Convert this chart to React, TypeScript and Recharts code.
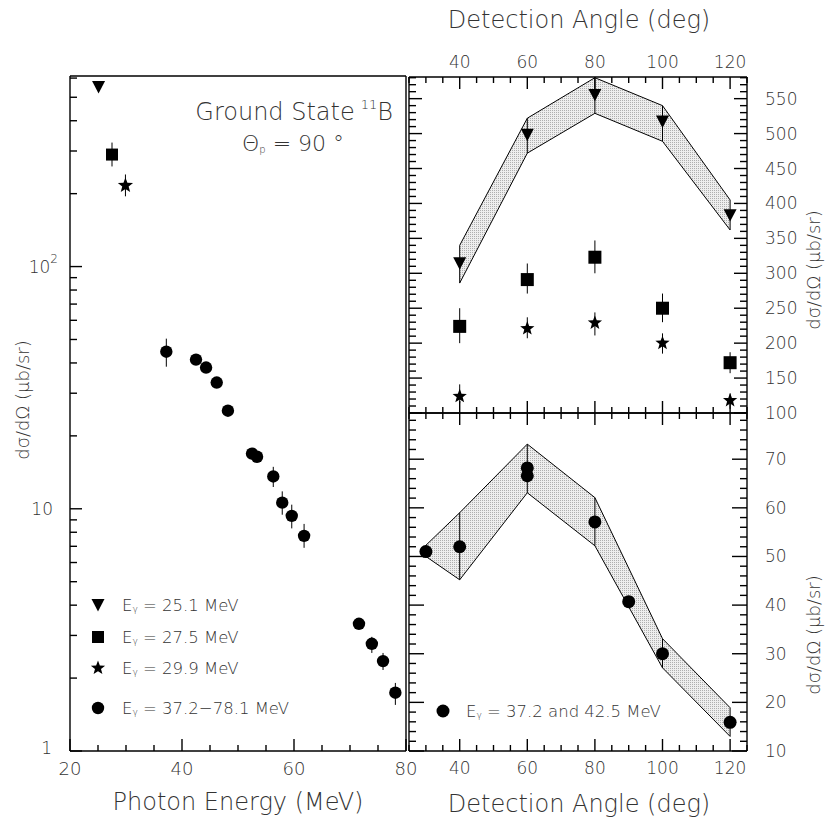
import React from 'react';
import { ComposedChart, Scatter, XAxis, YAxis, ErrorBar, Area, Line, ReferenceLine } from 'recharts';

// ---------- energy dependence at theta_p = 90 deg (left, log scale) ----------
const triEnergy = [25.1];
const triXs = [550];
const sqEnergy = [27.5];
const sqXs = [290];
const sqLo = [259];
const sqHi = [325];
const starEnergy = [29.9];
const starXs = [216];
const starLo = [195];
const starHi = [240];
const circEnergy = [37.2, 42.5, 44.3, 46.2, 48.2, 52.5, 53.4, 56.3, 57.9, 59.6, 61.8, 71.6, 73.9, 75.9, 78.1];
const circXs = [44.5, 41.3, 38.3, 33.2, 25.4, 16.9, 16.4, 13.6, 10.6, 9.35, 7.73, 3.35, 2.77, 2.35, 1.74];
const circLo = [38.6, 39.8, 36.9, 32.0, 24.5, 16.4, 15.9, 12.3, 9.45, 8.3, 6.9, 3.22, 2.54, 2.16, 1.55];
const circHi = [50.4, 42.8, 39.7, 34.4, 26.3, 17.4, 16.9, 14.9, 11.8, 10.4, 8.66, 3.48, 2.96, 2.54, 1.91];

const energyTicks = [20, 25, 30, 35, 40, 45, 50, 55, 60, 65, 70, 75, 80];
const logTicks = [1, 2, 3, 4, 5, 6, 7, 8, 9, 10, 20, 30, 40, 50, 60, 70, 80, 90, 100, 200, 300, 400, 500, 600];

// ---------- angular distributions (upper right) ----------
const angles = [40, 60, 80, 100, 120];
const triAng = [314, 498, 555, 517, 383];
const triBandLo = [286, 472, 529, 489, 362];
const triBandHi = [340, 522, 580, 540, 405];
const sqAng = [224, 291, 323, 250, 172];
const sqAngLo = [200, 271, 300, 230, 157];
const sqAngHi = [250, 314, 347, 271, 187];
const starAng = [124, 221, 229, 200, 118];
const starAngLo = [114, 207, 211, 185, 106];
const starAngHi = [141, 237, 244, 214, 128];

// ---------- angular distribution, 37.2 and 42.5 MeV (lower right) ----------
const lowAngles = [30, 40, 60, 60, 80, 90, 100, 120];
const lowXs = [51.0, 52.0, 68.2, 66.6, 57.1, 40.7, 30.0, 15.9];
const lowBandAngles = [30, 40, 60, 80, 100, 120];
const lowBandLo = [50.0, 45.2, 63.1, 52.2, 27.1, 13.0];
const lowBandHi = [52.3, 59.0, 73.1, 62.1, 33.1, 18.9];

const angleTicks = [25, 30, 35, 40, 45, 50, 55, 60, 65, 70, 75, 80, 85, 90, 95, 100, 105, 110, 115, 120, 125];
const upperTicks: number[] = [];
for (let v = 100; v <= 580; v += 10) upperTicks.push(v);
const lowerTicks: number[] = [];
for (let v = 10; v <= 78; v += 2) lowerTicks.push(v);

// ---------- domains ----------
const E_DOM: [number, number] = [20, 80];
const LOG_DOM: [number, number] = [1, 612];
const ANG_DOM: [number, number] = [25, 125];
const UP_DOM: [number, number] = [100, 581];
const LOW_DOM: [number, number] = [10, 79.5];

// plot-area sizes in pixels (set by the chart sizes and margins below)
const LEFT_W = 336;
const LEFT_H = 675;
const RIGHT_W = 338;
const UP_H = 336;
const LOW_H = 338;

// ---------- styling ----------
const FONT = '"DejaVu Sans", sans-serif';
const INK = '#000';
const TEXT = '#333';
const TW = 200;
const TICK_W = 1.4;

const pts = (xs: number[], ys: number[], lo?: number[], hi?: number[]) =>
  xs.map((x, i) => ({
    x,
    y: ys[i],
    err: lo && hi ? [ys[i] - lo[i], hi[i] - ys[i]] : [0, 0],
  }));

const bandRows = (xs: number[], lo: number[], hi: number[]) =>
  xs.map((x, i) => ({ x, lo: lo[i], hi: hi[i], y: lo[i], err: [0, hi[i] - lo[i]] }));

// ---------- marker shapes ----------
const triDown = (s: number) => (p: any) => {
  const { cx, cy } = p;
  const h = s * 0.95;
  return <path d={`M${cx - s / 2},${cy - h / 2}L${cx + s / 2},${cy - h / 2}L${cx},${cy + h / 2}Z`} fill={INK} />;
};
const square = (s: number) => (p: any) => (
  <rect x={p.cx - s / 2} y={p.cy - s / 2} width={s} height={s} fill={INK} />
);
const dot = (r: number) => (p: any) => <circle cx={p.cx} cy={p.cy} r={r} fill={INK} />;
const starPath = (cx: number, cy: number, R: number) => {
  const r = R * 0.42;
  let d = '';
  for (let i = 0; i < 10; i++) {
    const a = -Math.PI / 2 + (i * Math.PI) / 5;
    const rr = i % 2 === 0 ? R : r;
    d += (i === 0 ? 'M' : 'L') + (cx + rr * Math.cos(a)).toFixed(2) + ',' + (cy + rr * Math.sin(a)).toFixed(2);
  }
  return d + 'Z';
};
const star = (R: number) => (p: any) => <path d={starPath(p.cx, p.cy, R)} fill={INK} />;
const nothing = () => <g />;

// ---------- inward tick marks along the frame ----------
type Side = 'bottom' | 'top' | 'left' | 'right';
type Seg = [{ x: number; y: number }, { x: number; y: number }];
interface FrameSpec {
  xDom: [number, number];
  yDom: [number, number];
  pxPerX: number;
  yShift: (base: number, px: number, dir: 1 | -1) => number;
  xTicks: number[];
  yTicks: number[];
  xMajor: (v: number) => boolean;
  yMajor: (v: number) => boolean;
  xLen: [number, number];
  yLen: [number, number];
  sides: Side[];
}
function frameSegments(f: FrameSpec): Seg[] {
  const out: Seg[] = [];
  for (const s of f.sides) {
    if (s === 'bottom' || s === 'top') {
      for (const v of f.xTicks) {
        const px = f.xMajor(v) ? f.xLen[0] : f.xLen[1];
        if (s === 'bottom') out.push([{ x: v, y: f.yDom[0] }, { x: v, y: f.yShift(f.yDom[0], px, 1) }]);
        else out.push([{ x: v, y: f.yDom[1] }, { x: v, y: f.yShift(f.yDom[1], px, -1) }]);
      }
    } else {
      for (const v of f.yTicks) {
        const px = f.yMajor(v) ? f.yLen[0] : f.yLen[1];
        if (s === 'left') out.push([{ x: f.xDom[0], y: v }, { x: f.xDom[0] + px / f.pxPerX, y: v }]);
        else out.push([{ x: f.xDom[1], y: v }, { x: f.xDom[1] - px / f.pxPerX, y: v }]);
      }
    }
  }
  return out;
}
const linShift = (pxPerY: number) => (b: number, px: number, dir: 1 | -1) => b + (dir * px) / pxPerY;
const logShift = (pxPerDecade: number) => (b: number, px: number, dir: 1 | -1) => b * Math.pow(10, (dir * px) / pxPerDecade);

function tickLines(segs: Seg[], prefix: string) {
  return segs.map((seg, i) => (
    <ReferenceLine
      key={prefix + i}
      xAxisId="b"
      yAxisId="l"
      segment={seg}
      stroke={INK}
      strokeWidth={TICK_W}
      ifOverflow="visible"
    />
  ));
}

// ---------- tick labels ----------
function makeLabel(side: Side, gap: number, label: (v: number) => string | null, fontSize = 17) {
  return function TickLabel(props: any) {
    const { x, y, payload } = props;
    const lab = label(Number(payload.value));
    if (lab == null) return <g />;
    let tx = x;
    let ty = y;
    let anchor: 'middle' | 'end' | 'start' = 'middle';
    if (side === 'bottom') ty = y + gap;
    else if (side === 'top') ty = y - gap;
    else if (side === 'left') {
      tx = x - gap;
      anchor = 'end';
    } else {
      tx = x + gap;
      anchor = 'start';
    }
    return (
      <text x={tx} y={ty} textAnchor={anchor} dominantBaseline="central" fontFamily={FONT} fontWeight={TW} fontSize={fontSize} fill={TEXT}>
        {lab}
      </text>
    );
  };
}

// log axis labels 1, 10, 10^2
function LogLabel(props: any) {
  const { x, y, payload } = props;
  const v = Number(payload.value);
  const common = { fontFamily: FONT, fontWeight: TW, fontSize: 17, fill: TEXT, dominantBaseline: 'central' as const };
  if (v === 1)
    return (
      <text x={x - 18} y={y - 3} textAnchor="end" {...common}>
        1
      </text>
    );
  if (v === 10)
    return (
      <text x={x - 17} y={y} textAnchor="end" {...common}>
        10
      </text>
    );
  if (v === 100)
    return (
      <text x={x - 12} y={y} textAnchor="end" {...common}>
        10
        <tspan dy={-8} fontSize={12}>
          2
        </tspan>
      </text>
    );
  return <g />;
}

const axisLine = { stroke: INK, strokeWidth: 1.4 };
const mult = (m: number) => (v: number) => Math.abs(v % m) < 1e-9;
const noTicks = { tickSize: 0, tickMargin: 0, tickLine: false, interval: 0 as const };

// ---------- panels ----------
function EnergyPanel() {
  const tri = pts(triEnergy, triXs);
  const sq = pts(sqEnergy, sqXs, sqLo, sqHi);
  const st = pts(starEnergy, starXs, starLo, starHi);
  const ci = pts(circEnergy, circXs, circLo, circHi);
  const segs = frameSegments({
    xDom: E_DOM,
    yDom: LOG_DOM,
    pxPerX: LEFT_W / (E_DOM[1] - E_DOM[0]),
    yShift: logShift(LEFT_H / Math.log10(LOG_DOM[1] / LOG_DOM[0])),
    xTicks: energyTicks,
    yTicks: logTicks,
    xMajor: mult(20),
    yMajor: (v) => v === 1 || v === 10 || v === 100,
    xLen: [12, 6],
    yLen: [12, 7],
    sides: ['bottom', 'left'],
  });
  return (
    <ComposedChart width={420} height={818} margin={{ top: 75, right: 13, bottom: 0, left: 0 }}>
      <XAxis
        xAxisId="b"
        type="number"
        dataKey="x"
        domain={E_DOM}
        allowDataOverflow
        ticks={energyTicks}
        height={67}
        {...noTicks}
        axisLine={axisLine}
        tick={makeLabel('bottom', 17, (v) => (v % 20 === 0 ? String(v) : null), 18)}
      />
      <XAxis xAxisId="t" orientation="top" type="number" dataKey="x" domain={E_DOM} allowDataOverflow height={1} tick={false} tickLine={false} axisLine={axisLine} />
      <YAxis yAxisId="l" type="number" dataKey="y" scale="log" domain={LOG_DOM} allowDataOverflow ticks={logTicks} width={70} {...noTicks} axisLine={axisLine} tick={LogLabel} />
      <YAxis yAxisId="r" orientation="right" type="number" dataKey="y" scale="log" domain={LOG_DOM} allowDataOverflow width={1} tick={false} tickLine={false} axisLine={axisLine} />
      {tickLines(segs, 'e')}
      <Scatter xAxisId="b" yAxisId="l" data={sq} shape={square(12)} isAnimationActive={false}>
        <ErrorBar dataKey="err" direction="y" width={0} stroke={INK} strokeWidth={1} isAnimationActive={false} />
      </Scatter>
      <Scatter xAxisId="b" yAxisId="l" data={st} shape={star(8)} isAnimationActive={false}>
        <ErrorBar dataKey="err" direction="y" width={0} stroke={INK} strokeWidth={1} isAnimationActive={false} />
      </Scatter>
      <Scatter xAxisId="b" yAxisId="l" data={ci} shape={dot(6.2)} isAnimationActive={false}>
        <ErrorBar dataKey="err" direction="y" width={0} stroke={INK} strokeWidth={1} isAnimationActive={false} />
      </Scatter>
      <Scatter xAxisId="b" yAxisId="l" data={tri} shape={triDown(13)} isAnimationActive={false} />
    </ComposedChart>
  );
}

function Stipple({ id }: { id: string }) {
  return (
    <defs>
      <pattern id={id} width={2} height={2} patternUnits="userSpaceOnUse">
        <rect width={2} height={2} fill="#e2e2e2" />
        <rect width={1} height={1} fill="#7a7a7a" />
      </pattern>
    </defs>
  );
}

function UpperAnglePanel() {
  const band = bandRows(angles, triBandLo, triBandHi);
  const tri = pts(angles, triAng);
  const sq = pts(angles, sqAng, sqAngLo, sqAngHi);
  const st = pts(angles, starAng, starAngLo, starAngHi);
  const segs = frameSegments({
    xDom: ANG_DOM,
    yDom: UP_DOM,
    pxPerX: RIGHT_W / (ANG_DOM[1] - ANG_DOM[0]),
    yShift: linShift(UP_H / (UP_DOM[1] - UP_DOM[0])),
    xTicks: angleTicks,
    yTicks: upperTicks,
    xMajor: mult(20),
    yMajor: mult(50),
    xLen: [12, 6],
    yLen: [13, 7],
    sides: ['top', 'bottom', 'left', 'right'],
  });
  return (
    <ComposedChart width={427} height={430} data={band} margin={{ top: 0, right: 0, bottom: 16, left: 8 }}>
      <Stipple id="stippleUp" />
      <XAxis
        xAxisId="t"
        orientation="top"
        type="number"
        dataKey="x"
        domain={ANG_DOM}
        allowDataOverflow
        ticks={angleTicks}
        height={77}
        {...noTicks}
        axisLine={axisLine}
        tick={makeLabel('top', 15, (v) => (v % 20 === 0 ? String(v) : null))}
      />
      <XAxis xAxisId="b" type="number" dataKey="x" domain={ANG_DOM} allowDataOverflow height={1} tick={false} tickLine={false} axisLine={axisLine} />
      <YAxis yAxisId="l" type="number" dataKey="y" domain={UP_DOM} allowDataOverflow width={1} tick={false} tickLine={false} axisLine={axisLine} />
      <YAxis
        yAxisId="r"
        orientation="right"
        type="number"
        dataKey="y"
        domain={UP_DOM}
        allowDataOverflow
        ticks={upperTicks}
        width={80}
        {...noTicks}
        axisLine={axisLine}
        tick={makeLabel('right', 18, (v) => (v % 50 === 0 && v <= 550 ? String(v) : null))}
      />
      <Area xAxisId="b" yAxisId="l" dataKey={(d: any) => [d.lo, d.hi]} fill="url(#stippleUp)" stroke="none" isAnimationActive={false} />
      <Line xAxisId="b" yAxisId="l" dataKey="lo" stroke={INK} strokeWidth={1} dot={false} isAnimationActive={false} />
      <Line xAxisId="b" yAxisId="l" dataKey="hi" stroke={INK} strokeWidth={1} dot={false} isAnimationActive={false} />
      {tickLines(segs, 'u')}
      <Scatter xAxisId="b" yAxisId="l" data={band} shape={nothing} isAnimationActive={false}>
        <ErrorBar dataKey="err" direction="y" width={0} stroke={INK} strokeWidth={1} isAnimationActive={false} />
      </Scatter>
      <Scatter xAxisId="b" yAxisId="l" data={sq} shape={square(13)} isAnimationActive={false}>
        <ErrorBar dataKey="err" direction="y" width={0} stroke={INK} strokeWidth={1} isAnimationActive={false} />
      </Scatter>
      <Scatter xAxisId="b" yAxisId="l" data={st} shape={star(7.5)} isAnimationActive={false}>
        <ErrorBar dataKey="err" direction="y" width={0} stroke={INK} strokeWidth={1} isAnimationActive={false} />
      </Scatter>
      <Scatter xAxisId="b" yAxisId="l" data={tri} shape={triDown(13)} isAnimationActive={false} />
    </ComposedChart>
  );
}

function LowerAnglePanel() {
  const band = bandRows(lowBandAngles, lowBandLo, lowBandHi);
  const ci = pts(lowAngles, lowXs);
  const segs = frameSegments({
    xDom: ANG_DOM,
    yDom: LOW_DOM,
    pxPerX: RIGHT_W / (ANG_DOM[1] - ANG_DOM[0]),
    yShift: linShift(LOW_H / (LOW_DOM[1] - LOW_DOM[0])),
    xTicks: angleTicks,
    yTicks: lowerTicks,
    xMajor: mult(20),
    yMajor: mult(10),
    xLen: [12, 6],
    yLen: [15, 7],
    sides: ['top', 'bottom', 'left', 'right'],
  });
  return (
    <ComposedChart width={427} height={406} data={band} margin={{ top: 0, right: 0, bottom: 0, left: 8 }}>
      <Stipple id="stippleLow" />
      <XAxis xAxisId="t" orientation="top" type="number" dataKey="x" domain={ANG_DOM} allowDataOverflow height={1} tick={false} tickLine={false} axisLine={axisLine} />
      <XAxis
        xAxisId="b"
        type="number"
        dataKey="x"
        domain={ANG_DOM}
        allowDataOverflow
        ticks={angleTicks}
        height={67}
        {...noTicks}
        axisLine={axisLine}
        tick={makeLabel('bottom', 17, (v) => (v % 20 === 0 ? String(v) : null))}
      />
      <YAxis yAxisId="l" type="number" dataKey="y" domain={LOW_DOM} allowDataOverflow width={1} tick={false} tickLine={false} axisLine={axisLine} />
      <YAxis
        yAxisId="r"
        orientation="right"
        type="number"
        dataKey="y"
        domain={LOW_DOM}
        allowDataOverflow
        ticks={lowerTicks}
        width={80}
        {...noTicks}
        axisLine={axisLine}
        tick={makeLabel('right', 18, (v) => (v % 10 === 0 ? String(v) : null))}
      />
      <Area xAxisId="b" yAxisId="l" dataKey={(d: any) => [d.lo, d.hi]} fill="url(#stippleLow)" stroke="none" isAnimationActive={false} />
      <Line xAxisId="b" yAxisId="l" dataKey="lo" stroke={INK} strokeWidth={1} dot={false} isAnimationActive={false} />
      <Line xAxisId="b" yAxisId="l" dataKey="hi" stroke={INK} strokeWidth={1} dot={false} isAnimationActive={false} />
      {tickLines(segs, 'd')}
      <Scatter xAxisId="b" yAxisId="l" data={band} shape={nothing} isAnimationActive={false}>
        <ErrorBar dataKey="err" direction="y" width={0} stroke={INK} strokeWidth={1} isAnimationActive={false} />
      </Scatter>
      <Scatter xAxisId="b" yAxisId="l" data={ci} shape={dot(6.5)} isAnimationActive={false} />
    </ComposedChart>
  );
}

// ---------- titles, axis names and legends ----------
const txt = { fontFamily: FONT, fontWeight: TW, fill: TEXT };

function LegendRow({ y, label, mark }: { y: number; label: string; mark: React.ReactNode }) {
  return (
    <g>
      {mark}
      <text x={122} y={y} dominantBaseline="central" fontSize={16.5} {...txt}>
        E
        <tspan dy={4} fontSize={9}>
          γ
        </tspan>
        <tspan dy={-4}>{' = ' + label}</tspan>
      </text>
    </g>
  );
}

function Annotations() {
  const yLabel = 'dσ/dΩ (μb/sr)';
  return (
    <svg width={827} height={818} style={{ position: 'absolute', left: 0, top: 0, pointerEvents: 'none' }}>
      <text x={0} y={0} transform="translate(22,400) rotate(-90)" textAnchor="middle" dominantBaseline="central" fontSize={18} {...txt}>
        {yLabel}
      </text>
      <text x={0} y={0} transform="translate(813,270) rotate(-90)" textAnchor="middle" dominantBaseline="central" fontSize={18} {...txt}>
        {yLabel}
      </text>
      <text x={0} y={0} transform="translate(813,635) rotate(-90)" textAnchor="middle" dominantBaseline="central" fontSize={18} {...txt}>
        {yLabel}
      </text>
      <text x={238} y={802} textAnchor="middle" dominantBaseline="central" fontSize={24} {...txt}>
        Photon Energy (MeV)
      </text>
      <text x={579} y={804} textAnchor="middle" dominantBaseline="central" fontSize={24} {...txt}>
        Detection Angle (deg)
      </text>
      <text x={579} y={20} textAnchor="middle" dominantBaseline="central" fontSize={24} {...txt}>
        Detection Angle (deg)
      </text>
      <text x={393} y={112} textAnchor="end" dominantBaseline="central" fontSize={24} {...txt}>
        Ground State
        <tspan dx={6} dy={-8} fontSize={13}>
          11
        </tspan>
        <tspan dy={8}>B</tspan>
      </text>
      <text x={242} y={143} dominantBaseline="central" fontSize={22} {...txt}>
        Θ
        <tspan dy={6} fontSize={10}>
          p
        </tspan>
        <tspan dy={-6}>{' = 90 °'}</tspan>
      </text>

      <LegendRow y={605} label="25.1 MeV" mark={<path d="M91.5,599L104.5,599L98,611.5Z" fill={INK} />} />
      <LegendRow y={637} label="27.5 MeV" mark={<rect x={92} y={631} width={12} height={12} fill={INK} />} />
      <LegendRow y={668} label="29.9 MeV" mark={<path d={starPath(98, 668, 7.5)} fill={INK} />} />
      <LegendRow y={708} label="37.2−78.1 MeV" mark={<circle cx={98} cy={708} r={6.2} fill={INK} />} />

      <circle cx={443} cy={711} r={6.5} fill={INK} />
      <text x={466} y={711} dominantBaseline="central" fontSize={16.5} {...txt}>
        E
        <tspan dy={4} fontSize={9}>
          γ
        </tspan>
        <tspan dy={-4}>{' = 37.2 and 42.5 MeV'}</tspan>
      </text>
    </svg>
  );
}

export default function App() {
  return (
    <div style={{ position: 'absolute', left: 0, top: 0, width: 827, height: 818, background: '#fff' }}>
      <div style={{ position: 'absolute', left: 0, top: 0 }}>
        <EnergyPanel />
      </div>
      <div style={{ position: 'absolute', left: 400, top: 0 }}>
        <UpperAnglePanel />
      </div>
      <div style={{ position: 'absolute', left: 400, top: 412 }}>
        <LowerAnglePanel />
      </div>
      <Annotations />
    </div>
  );
}
